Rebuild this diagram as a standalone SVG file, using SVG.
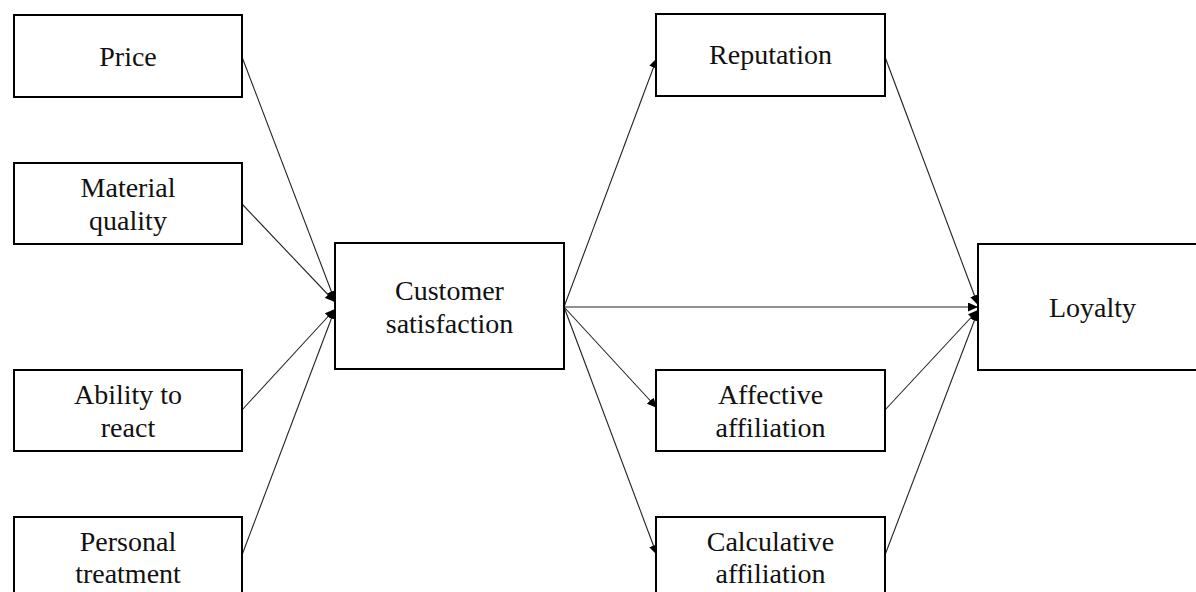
<svg xmlns="http://www.w3.org/2000/svg" width="1196" height="592" viewBox="0 0 1196 592">
<style>
.box{fill:#fff;stroke:#000;stroke-width:2}
.t{font-family:"Liberation Serif","Times New Roman",serif;font-size:28px;fill:#111;text-anchor:middle}
.c{stroke:#222;stroke-width:1.1;fill:none;marker-end:url(#ah)}
</style>
<defs>
<marker id="ah" markerUnits="userSpaceOnUse" markerWidth="11" markerHeight="9" refX="10" refY="4.5" orient="auto">
<path d="M0,0 L10,4.5 L0,9 Z" fill="#000"/>
</marker>
</defs>
<rect width="1196" height="592" fill="#fff"/>
<g id="connectors">
<line class="c" x1="242" y1="57" x2="335" y2="301"/>
<line class="c" x1="242" y1="204" x2="335" y2="302"/>
<line class="c" x1="242" y1="410" x2="335" y2="309"/>
<line class="c" x1="242" y1="555" x2="335" y2="309"/>
<line class="c" x1="564" y1="307" x2="657" y2="58"/>
<line class="c" x1="564" y1="307" x2="978" y2="307"/>
<line class="c" x1="564" y1="307" x2="657" y2="408"/>
<line class="c" x1="564" y1="307" x2="657" y2="555"/>
<line class="c" x1="885" y1="57" x2="978" y2="305"/>
<line class="c" x1="885" y1="410" x2="978" y2="310"/>
<line class="c" x1="885" y1="555" x2="978" y2="311"/>
</g>
<g id="price"><rect class="box" x="14" y="15" width="228" height="82"/><text class="t" x="128" y="66">Price</text></g>
<g id="material-quality"><rect class="box" x="14" y="163" width="228" height="81"/><text class="t" x="128" y="197">Material</text><text class="t" x="128" y="230">quality</text></g>
<g id="ability-to-react"><rect class="box" x="14" y="370" width="228" height="81"/><text class="t" x="128" y="404">Ability to</text><text class="t" x="128" y="437">react</text></g>
<g id="personal-treatment"><rect class="box" x="14" y="517" width="228" height="82"/><text class="t" x="128" y="551">Personal</text><text class="t" x="128" y="583">treatment</text></g>
<g id="customer-satisfaction"><rect class="box" x="335" y="243" width="229" height="126"/><text class="t" x="449.5" y="300">Customer</text><text class="t" x="449.5" y="333">satisfaction</text></g>
<g id="reputation"><rect class="box" x="656" y="14" width="229" height="82"/><text class="t" x="770.5" y="64">Reputation</text></g>
<g id="affective-affiliation"><rect class="box" x="656" y="370" width="229" height="81"/><text class="t" x="770.5" y="404">Affective</text><text class="t" x="770.5" y="437">affiliation</text></g>
<g id="calculative-affiliation"><rect class="box" x="656" y="517" width="229" height="82"/><text class="t" x="770.5" y="551">Calculative</text><text class="t" x="770.5" y="583">affiliation</text></g>
<g id="loyalty"><rect class="box" x="978" y="244" width="229" height="126"/><text class="t" x="1092.5" y="317">Loyalty</text></g>
</svg>
